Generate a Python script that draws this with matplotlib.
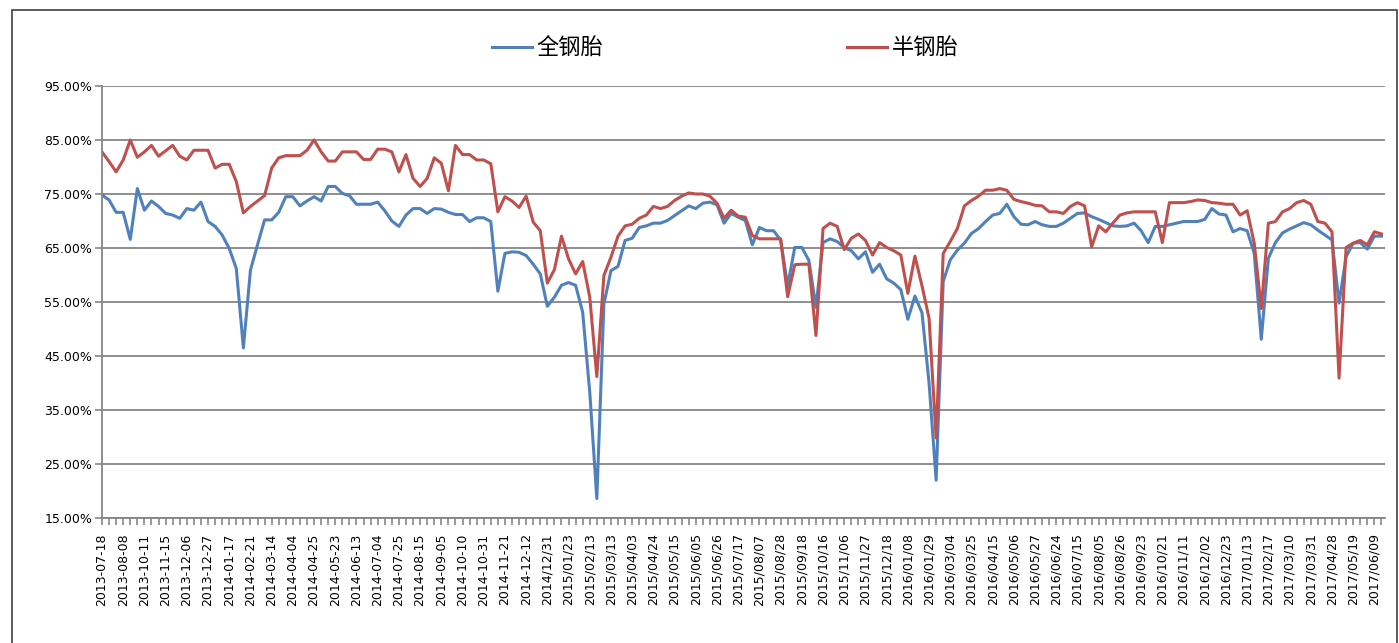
import numpy as np
import matplotlib
matplotlib.use("Agg")
import matplotlib.pyplot as plt
from matplotlib.patches import Rectangle
from matplotlib.ticker import FixedLocator, FuncFormatter

plt.rcParams['font.family'] = ['DejaVu Sans', 'Noto Sans CJK SC']

# weekly operating rates (%)
all_steel = [
    74.8, 73.9, 71.6, 71.6, 66.6, 76.0, 72.0, 73.7, 72.7, 71.4,
    71.1, 70.5, 72.3, 72.0, 73.5, 69.9, 69.0, 67.4, 64.9, 61.2,
    46.5, 60.9, 65.6, 70.2, 70.2, 71.6, 74.5, 74.5, 72.8, 73.7,
    74.5, 73.7, 76.4, 76.4, 75.1, 74.7, 73.1, 73.1, 73.1, 73.5,
    71.9, 70.0, 69.0, 71.1, 72.3, 72.3, 71.4, 72.3, 72.2, 71.6,
    71.2, 71.2, 69.9, 70.6, 70.6, 69.9, 57.0, 64.0, 64.3, 64.2,
    63.6, 62.0, 60.2, 54.2, 55.9, 58.1, 58.6, 58.1, 53.1, 38.3,
    18.6, 54.6, 60.8, 61.6, 66.4, 66.8, 68.8, 69.1, 69.6, 69.6,
    70.1, 71.0, 71.9, 72.8, 72.3, 73.3, 73.5, 73.0, 69.6, 71.4,
    70.7, 70.1, 65.6, 68.8, 68.2, 68.2, 66.5, 58.0, 65.1, 65.1,
    62.7, 54.0, 66.0, 66.7, 66.2, 65.1, 64.5, 63.0, 64.3, 60.5,
    62.0, 59.3, 58.5, 57.3, 51.8, 56.1, 53.0, 40.0, 22.0, 58.8,
    62.8, 64.6, 65.9, 67.7, 68.6, 69.9, 71.1, 71.4, 73.1, 70.8,
    69.4, 69.3, 69.9, 69.3, 69.0, 69.0, 69.6, 70.5, 71.4, 71.5,
    70.8, 70.3, 69.7, 69.1, 69.0, 69.1, 69.6, 68.2, 66.0, 69.0,
    69.0, 69.3, 69.6, 69.9, 69.9, 69.9, 70.3, 72.3, 71.3, 71.1,
    68.0, 68.6, 68.2, 64.0, 48.1, 63.1, 66.0, 67.8, 68.5, 69.1,
    69.7, 69.3, 68.3, 67.4, 66.5, 54.8, 63.4, 65.9, 66.0, 64.8,
    67.2, 67.2,
]

semi_steel = [
    82.8, 81.0, 79.1, 81.3, 85.0, 81.8, 82.8, 84.0, 82.0, 83.0,
    84.0, 82.0, 81.3, 83.1, 83.1, 83.1, 79.8, 80.5, 80.5, 77.3,
    71.5, 72.7, 73.7, 74.7, 79.8, 81.7, 82.1, 82.1, 82.1, 83.1,
    85.0, 82.8, 81.1, 81.1, 82.8, 82.8, 82.8, 81.4, 81.4, 83.3,
    83.3, 82.8, 79.1, 82.3, 77.9, 76.4, 77.9, 81.7, 80.7, 75.6,
    84.0, 82.3, 82.3, 81.3, 81.3, 80.6, 71.7, 74.5, 73.7, 72.5,
    74.6, 69.8, 68.2, 58.5, 61.0, 67.2, 63.0, 60.2, 62.5, 55.9,
    41.2, 59.9, 63.3, 67.2, 69.1, 69.4, 70.5, 71.1, 72.7, 72.3,
    72.7, 73.8, 74.6, 75.2, 75.0, 75.0, 74.6, 73.3, 70.5, 72.0,
    70.9, 70.7, 67.3, 66.7, 66.7, 66.7, 66.7, 56.0, 61.9, 62.0,
    62.0, 48.8, 68.6, 69.6, 69.0, 64.7, 66.8, 67.6, 66.4, 63.7,
    66.0, 65.1, 64.5, 63.7, 56.6, 63.5, 58.0, 52.0, 29.8, 64.0,
    66.2, 68.6, 72.8, 73.8, 74.6, 75.7, 75.7, 76.0, 75.7, 74.0,
    73.6, 73.3, 72.9, 72.8, 71.7, 71.7, 71.4, 72.7, 73.4, 72.8,
    65.2, 69.1, 68.0, 69.6, 71.1, 71.5, 71.7, 71.7, 71.7, 71.7,
    66.0, 73.4, 73.4, 73.4, 73.6, 73.9, 73.8, 73.4, 73.3, 73.1,
    73.1, 71.1, 71.9, 65.9, 53.8, 69.6, 69.9, 71.7, 72.3, 73.4,
    73.8, 73.1, 69.9, 69.6, 68.0, 40.9, 65.1, 65.9, 66.4, 65.6,
    68.0, 67.6,
]

# every third week is labelled
tick_labels = [
    "2013-07-18", "2013-08-08", "2013-10-11", "2013-11-15", "2013-12-06",
    "2013-12-27", "2014-01-17", "2014-02-21", "2014-03-14", "2014-04-04",
    "2014-04-25", "2014-05-23", "2014-06-13", "2014-07-04", "2014-07-25",
    "2014-08-15", "2014-09-05", "2014-10-10", "2014-10-31", "2014-11-21",
    "2014-12-12", "2014/12/31", "2015/01/23", "2015/02/13", "2015/03/13",
    "2015/04/03", "2015/04/24", "2015/05/15", "2015/06/05", "2015/06/26",
    "2015/07/17", "2015/08/07", "2015/08/28", "2015/09/18", "2015/10/16",
    "2015/11/06", "2015/11/27", "2015/12/18", "2016/01/08", "2016/01/29",
    "2016/03/04", "2016/03/25", "2016/04/15", "2016/05/06", "2016/05/27",
    "2016/06/24", "2016/07/15", "2016/08/05", "2016/08/26", "2016/09/23",
    "2016/10/21", "2016/11/11", "2016/12/02", "2016/12/23", "2017/01/13",
    "2017/02/17", "2017/03/10", "2017/03/31", "2017/04/28", "2017/05/19",
    "2017/06/09",
]

x = np.arange(len(all_steel))
grey = "#868686"

fig = plt.figure(figsize=(13.99, 6.43), dpi=100)
ax = fig.add_axes([102 / 1399, 1 - 518 / 643, 1283 / 1399, 432 / 643])

ax.plot(x, all_steel, color="#4F81BD", lw=2.2, label="全钢胎")
ax.plot(x, semi_steel, color="#C0504D", lw=2.2, label="半钢胎")

ax.set_ylim(15, 95)
ax.set_yticks(np.arange(15, 96, 10))
ax.yaxis.set_major_formatter(FuncFormatter(lambda v, p: f"{v:.2f}%"))
ax.grid(axis="y", color=grey, lw=1.3)
ax.set_axisbelow(True)

ax.set_xlim(0, len(x) - 0.5)
ax.xaxis.set_major_locator(FixedLocator(x[::3]))
ax.xaxis.set_minor_locator(FixedLocator(x))
ax.set_xticklabels(tick_labels, rotation=90)

for s in ["top", "right"]:
    ax.spines[s].set_visible(False)
for s in ["left", "bottom"]:
    ax.spines[s].set_color(grey)
    ax.spines[s].set_linewidth(1.3)

ax.tick_params(axis="y", length=5, color=grey, width=1.2, pad=2, labelsize=9)
ax.tick_params(axis="x", which="both", length=5, color=grey, width=1.2, pad=6, labelsize=9)

fig.legend(loc="center", bbox_to_anchor=(725 / 1399, 1 - 48 / 643), ncol=2,
           frameon=False, fontsize=16, handlelength=1.8, handletextpad=0.2,
           columnspacing=11)

fig.patches.append(Rectangle((12 / 1399, -0.1), 1385 / 1399, 1.1 - 10 / 643,
                             transform=fig.transFigure, fill=False,
                             edgecolor="#404040", lw=1.2))

fig.savefig("out.png", dpi=100)
